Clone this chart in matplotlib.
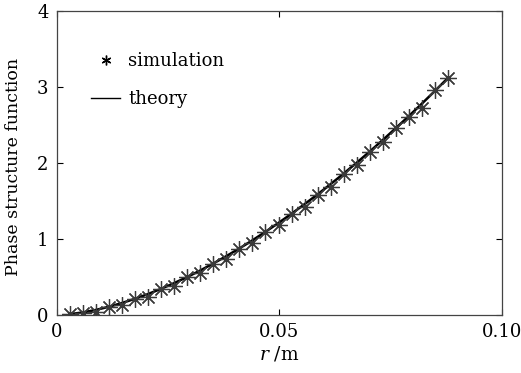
import matplotlib
matplotlib.use("Agg")
import matplotlib.pyplot as plt
from matplotlib.lines import Line2D

# separation r (m) of the sampled points
r = [0.00293, 0.00586, 0.00879, 0.01172, 0.01465, 0.01758, 0.02051, 0.02344,
     0.02637, 0.02930, 0.03223, 0.03516, 0.03809, 0.04102, 0.04395, 0.04688,
     0.04981, 0.05274, 0.05567, 0.05860, 0.06153, 0.06446, 0.06739, 0.07032,
     0.07325, 0.07618, 0.07911, 0.08204, 0.08497, 0.08790]

# theory curve
theory = [0.011, 0.034, 0.067, 0.109, 0.158, 0.214, 0.276, 0.345,
          0.420, 0.500, 0.586, 0.678, 0.775, 0.876, 0.983, 1.095,
          1.212, 1.333, 1.459, 1.588, 1.723, 1.862, 2.005, 2.152,
          2.304, 2.460, 2.619, 2.783, 2.950, 3.121]

# simulated phase structure function
simulation = [0.010, 0.030, 0.045, 0.105, 0.130, 0.210, 0.240, 0.340,
              0.385, 0.495, 0.550, 0.675, 0.735, 0.870, 0.950, 1.090,
              1.180, 1.330, 1.420, 1.585, 1.690, 1.860, 1.980, 2.150,
              2.280, 2.455, 2.610, 2.730, 2.960, 3.120]

plt.rcParams["font.family"] = ["DejaVu Serif"]
plt.rcParams["mathtext.fontset"] = "dejavuserif"

fig = plt.figure(figsize=(5.21, 3.73), dpi=100)
ax = fig.add_axes([0.109, 0.1555, 0.8545, 0.815])

ax.plot(r, theory, "-", color="black", lw=1.8, zorder=2)
ax.plot(r, simulation, linestyle="none", marker=(8, 2, 0), ms=12,
        mec="#3a3a3a", mew=0.9, zorder=3)

ax.set_xlim(0, 0.10)
ax.set_ylim(0, 4)
ax.set_xticks([0, 0.05, 0.10])
ax.set_xticklabels(["0", "0.05", "0.10"])
ax.set_yticks([0, 1, 2, 3, 4])
ax.tick_params(direction="in", top=True, right=True, labelsize=13,
               length=4, width=0.8, pad=6)
for s in ax.spines.values():
    s.set_linewidth(0.9)
    s.set_color("#444444")

ax.set_xlabel("$r$ /m", fontsize=13.5, labelpad=2)
ax.set_ylabel("Phase structure function", fontsize=12.5)
ax.yaxis.set_label_coords(-0.078, 0.487)

handles = [Line2D([], [], linestyle="none", marker=(6, 2, 0), ms=7,
                  mec="black", mew=1.0),
           Line2D([], [], color="black", lw=1.0)]
ax.legend(handles, ["simulation", "theory"], loc="upper left",
          bbox_to_anchor=(0.041, 0.917), frameon=False, fontsize=13,
          handlelength=1.6, handletextpad=0.45, labelspacing=1.1)

fig.savefig("out.png", dpi=100)
